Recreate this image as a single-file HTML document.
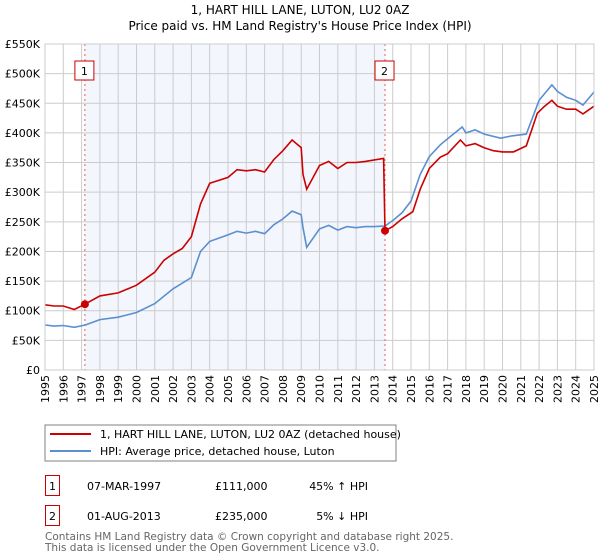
<!DOCTYPE html>
<html><head><meta charset="utf-8"><style>
body{margin:0;background:#fff;font-family:"DejaVu Sans","Liberation Sans",sans-serif;}
svg{display:block}
</style></head><body>
<svg width="600" height="560" xmlns="http://www.w3.org/2000/svg" id="chart">
<text x="300" y="14" text-anchor="middle" font-size="12" fill="#000">1, HART HILL LANE, LUTON, LU2 0AZ</text>
<text x="300" y="30" text-anchor="middle" font-size="12" fill="#000">Price paid vs. HM Land Registry's House Price Index (HPI)</text>
<g id="plot"></g>
<rect x="45" y="425" width="351" height="36" fill="#fff" stroke="#808080"/>
<line x1="50" y1="434" x2="91" y2="434" stroke="#cc0000" stroke-width="2"/>
<text x="100" y="438" font-size="11">1, HART HILL LANE, LUTON, LU2 0AZ (detached house)</text>
<line x1="50" y1="451" x2="91" y2="451" stroke="#5b8fd0" stroke-width="2"/>
<text x="100" y="455" font-size="11">HPI: Average price, detached house, Luton</text>
<g font-size="11">
<rect x="45.5" y="475.5" width="14" height="20" fill="none" stroke="#cc0000"/>
<text x="49" y="490">1</text>
<text x="87" y="490">07-MAR-1997</text>
<text x="215" y="490">£111,000</text>
<text x="368" y="490" text-anchor="end">45% ↑ HPI</text>
<rect x="45.5" y="505.5" width="14" height="20" fill="none" stroke="#cc0000"/>
<text x="49" y="520">2</text>
<text x="87" y="520">01-AUG-2013</text>
<text x="215" y="520">£235,000</text>
<text x="368" y="520" text-anchor="end">5% ↓ HPI</text>
</g>
<text x="45" y="540" font-size="10.5" fill="#666">Contains HM Land Registry data © Crown copyright and database right 2025.</text>
<text x="45" y="551" font-size="10.5" fill="#666">This data is licensed under the Open Government Licence v3.0.</text>
</svg>
<script>
const hpiYears=[1995,1995.5,1996,1996.6,1997.2,1998,1999,2000,2001,2002,2003,2003.5,2004,2005,2005.5,2006,2006.5,2007,2007.5,2008,2008.5,2009,2009.1,2009.3,2010,2010.5,2011,2011.5,2012,2012.5,2013,2013.58,2014,2014.5,2015,2015.5,2016,2016.6,2017,2017.8,2018,2018.5,2019,2019.9,2020.5,2021.3,2022,2022.7,2023,2023.5,2024,2024.4,2025];
const hpiValues=[76,74,75,72,76,85,89,97,112,137,156,200,217,228,234,231,234,230,245,255,268,262,240,207,238,244,236,242,240,242,242,243,252,265,285,330,360,380,390,410,400,405,398,391,395,398,455,481,470,460,455,447,469];
const priceYears=[1995,1995.5,1996,1996.6,1997.18,1998,1999,2000,2001,2001.5,2002,2002.5,2003,2003.5,2004,2005,2005.5,2006,2006.5,2007,2007.5,2008,2008.5,2009,2009.1,2009.3,2010,2010.5,2011,2011.5,2012,2012.5,2013.5,2013.58,2014,2014.5,2015.1,2015.5,2016,2016.6,2017,2017.7,2018,2018.5,2019,2019.5,2020,2020.6,2021.3,2021.9,2022.3,2022.7,2023,2023.5,2024,2024.4,2025];
const priceValues=[110,108,108,102,111,125,130,143,165,185,196,205,225,280,315,325,338,336,338,334,355,370,388,375,330,305,345,352,340,350,350,352,357,235,242,255,267,305,340,359,365,388,378,382,375,370,368,368,378,433,445,455,445,440,440,432,445];
const sales=[{year:1997.18,value:111,label:"1"},{year:2013.58,value:235,label:"2"}];
const yTicks=[0,50,100,150,200,250,300,350,400,450,500,550];
const xTicks=[1995,1996,1997,1998,1999,2000,2001,2002,2003,2004,2005,2006,2007,2008,2009,2010,2011,2012,2013,2014,2015,2016,2017,2018,2019,2020,2021,2022,2023,2024,2025];
const X0=45,X1=594,Y0=370,Y1=44;
const xs=y=>X0+(y-1995)/30*(X1-X0);
const ys=v=>Y0-v/550*(Y0-Y1);
const NS="http://www.w3.org/2000/svg";
const g=document.getElementById('plot');
function mk(t,a){const e=document.createElementNS(NS,t);for(const k in a)e.setAttribute(k,a[k]);g.appendChild(e);return e;}
let r=mk('rect',{x:xs(sales[0].year),y:Y1,width:xs(sales[1].year)-xs(sales[0].year),height:Y0-Y1,fill:'#f0f4fc',opacity:0.8});


xTicks.forEach(t=>{const l=mk('line',{x1:xs(t),x2:xs(t),y1:Y1,y2:Y0,stroke:'#cccccc'});


const px=xs(t)+4,py=Y0+5;
const tx=mk('text',{x:px,y:py,'text-anchor':'end','font-size':11,transform:`rotate(-90 ${px} ${py})`});tx.textContent=t;

});
yTicks.forEach(t=>{const l=mk('line',{x1:X0,x2:X1,y1:ys(t),y2:ys(t),stroke:'#cccccc'});


const tx=mk('text',{x:40,y:ys(t)+4,'text-anchor':'end','font-size':11});tx.textContent=t===0?'£0':'£'+t+'K';

});
sales.forEach(s=>{const l=mk('line',{x1:xs(s.year),x2:xs(s.year),y1:Y1,y2:Y0,stroke:'#e06060','stroke-dasharray':'2,3'});


const b=mk('rect',{x:xs(s.year)-10,y:61,width:19,height:19,fill:'#fff',stroke:'#cc0000'});


const t=mk('text',{x:xs(s.year)-0.5,y:75,'text-anchor':'middle','font-size':11});t.textContent=s.label;

});
const pts=(ya,va)=>ya.map((y,i)=>xs(y).toFixed(1)+','+ys(va[i]).toFixed(1)).join(' ');
const hl=mk('polyline',{points:pts(hpiYears,hpiValues),fill:'none',stroke:'#5b8fd0','stroke-width':1.6});


const pl=mk('polyline',{points:pts(priceYears,priceValues),fill:'none',stroke:'#cc0000','stroke-width':1.6});


sales.forEach(s=>{const c=mk('circle',{cx:xs(s.year),cy:ys(s.value),r:4,fill:'#cc0000'});

});
const ax=mk('rect',{x:X0,y:Y1,width:X1-X0,height:Y0-Y1,fill:'none',stroke:'#cccccc'});


</script>
</body></html>
